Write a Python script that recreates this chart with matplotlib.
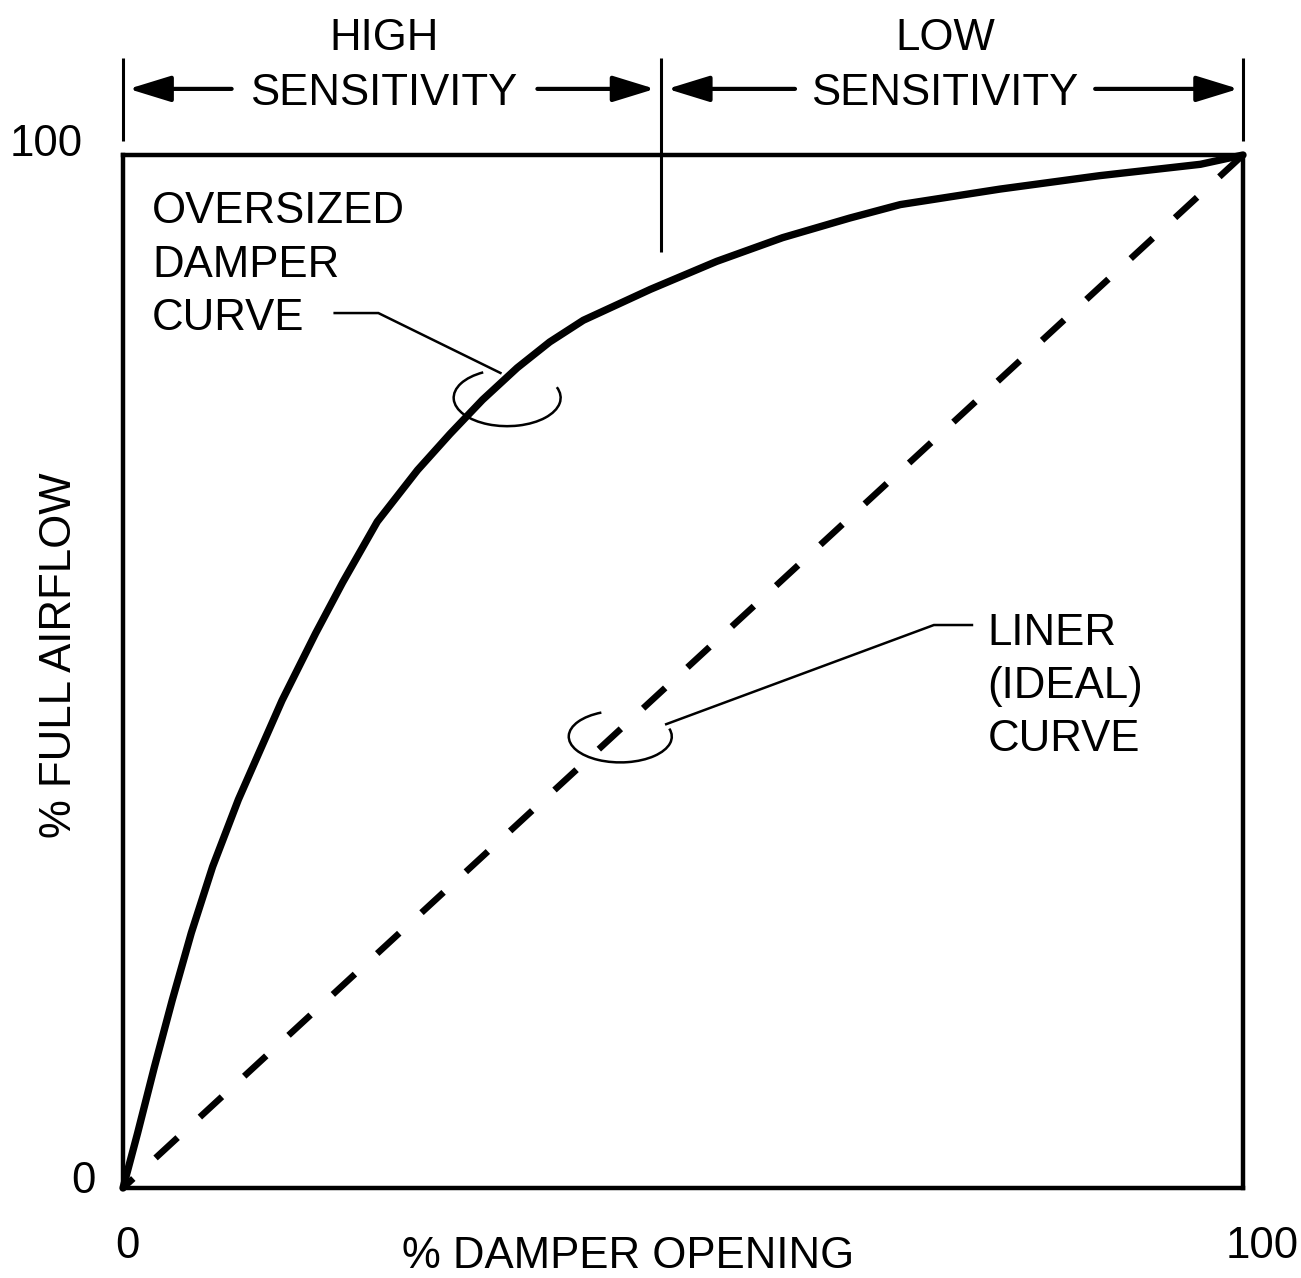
import matplotlib
matplotlib.use("Agg")
import matplotlib.pyplot as plt
from matplotlib.patches import Arc
from matplotlib.transforms import ScaledTranslation

plt.rcParams["font.family"] = ["Liberation Sans", "DejaVu Sans"]
plt.rcParams["lines.scale_dashes"] = False

# Oversized damper: % full airflow against % damper opening
oversized_opening = [0.0, 1.3, 2.8, 4.4, 6.1, 8.0, 10.3, 14.2, 17.2, 19.6, 22.7,
                     26.3, 29.2, 32.1, 35.2, 38.1, 41.1, 47.1, 53.0, 58.9, 64.9,
                     69.4, 78.3, 87.2, 96.2, 100.0]
oversized_airflow = [0.0, 5.3, 11.7, 18.2, 24.7, 31.1, 37.6, 47.2, 53.7, 58.6, 64.5,
                     69.5, 73.0, 76.3, 79.4, 81.9, 84.0, 87.0, 89.7, 92.0, 93.9,
                     95.2, 96.7, 98.0, 99.1, 100.0]

# Linear (ideal) characteristic
ideal_opening = [0, 100]
ideal_airflow = [0, 100]

axis_ticks = [0, 100]
axis_tick_labels = ["0", "100"]

# % opening where the high-sensitivity range ends
sensitivity_split = 48

FS = 31.5
PX = 0.72  # points per pixel at 100 dpi

fig = plt.figure(figsize=(13.01, 12.78), dpi=100)
ax = fig.add_axes([123 / 1301, 1 - 1188 / 1278, 1120 / 1301, 1033 / 1278])

ax.plot(oversized_opening, oversized_airflow, color="black", lw=5.3,
        solid_joinstyle="round", solid_capstyle="round", clip_on=False, zorder=3)
ax.plot(ideal_opening, ideal_airflow, color="black", lw=4.7,
        linestyle=(16 * PX, (30 * PX, 30.3 * PX)), dash_capstyle="butt",
        clip_on=False, zorder=3)

ax.set_xlim(0, 100)
ax.set_ylim(0, 100)
for sp in ax.spines.values():
    sp.set_linewidth(3.2)
    sp.set_zorder(4)

ax.set_xticks(axis_ticks, axis_tick_labels, fontsize=FS)
ax.set_yticks(axis_ticks, axis_tick_labels, fontsize=FS)
ax.tick_params(length=0)
ax.tick_params(axis="x", pad=27)
ax.tick_params(axis="y", pad=20)


def nudge(label, dx, dy):
    label.set_transform(label.get_transform() +
                        ScaledTranslation(dx / 100, dy / 100, fig.dpi_scale_trans))


xl = ax.get_xticklabels()
yl = ax.get_yticklabels()
nudge(xl[0], 4, 0)
nudge(xl[1], 19, 0)
nudge(yl[0], 0, 11)
nudge(yl[1], -12, 15)

ax.set_xlabel("% DAMPER OPENING", fontsize=FS, va="center")
ax.xaxis.set_label_coords(0.451, -0.066)
ax.set_ylabel("% FULL AIRFLOW", fontsize=FS, va="center")
ax.yaxis.set_label_coords(-0.0563, 0.516)

# Sensitivity bracket above the plot
ax.vlines([0, 100], 101.4, 109.4, color="black", lw=2.2, clip_on=False)
ax.vlines(sensitivity_split, 90.6, 109.4, color="black", lw=2.2, clip_on=False)

head = "-|>,head_length=2.6,head_width=0.8"
arrow_kw = dict(arrowstyle=head, mutation_scale=10, lw=3.0, color="black",
                shrinkA=0, shrinkB=0)
arrow_y = 106.4
for tail, tip in [(9.7, 0.5), (37.0, 47.5), (60.0, 48.6), (86.8, 99.6)]:
    ax.annotate("", xy=(tip, arrow_y), xytext=(tail, arrow_y),
                arrowprops=arrow_kw, annotation_clip=False)

for x, y, s in [(23.3, 110.2, "HIGH"), (23.3, 104.8, "SENSITIVITY"),
                (73.4, 110.2, "LOW"), (73.4, 104.8, "SENSITIVITY")]:
    ax.text(x, y, s, ha="center", va="baseline", fontsize=FS, clip_on=False)

# Callout labels
for y, s in [(93.4, "OVERSIZED"), (88.2, "DAMPER"), (83.1, "CURVE")]:
    ax.text(2.6, y, s, ha="left", va="baseline", fontsize=FS)
for y, s in [(52.6, "LINER"), (47.4, "(IDEAL)"), (42.3, "CURVE")]:
    ax.text(77.2, y, s, ha="left", va="baseline", fontsize=FS)

ax.plot([18.9, 22.8, 33.7], [84.7, 84.7, 78.9], color="black", lw=1.8,
        solid_joinstyle="miter")
ax.add_patch(Arc((34.3, 76.5), 9.55, 5.5, theta1=131, theta2=13,
                 color="black", lw=1.8))

ax.plot([75.8, 72.4, 48.5], [54.5, 54.5, 44.9], color="black", lw=1.8,
        solid_joinstyle="miter")
ax.add_patch(Arc((44.4, 43.7), 9.2, 5.0, theta1=126, theta2=10,
                 color="black", lw=1.8))

fig.savefig("out.png", dpi=100, facecolor="white")
